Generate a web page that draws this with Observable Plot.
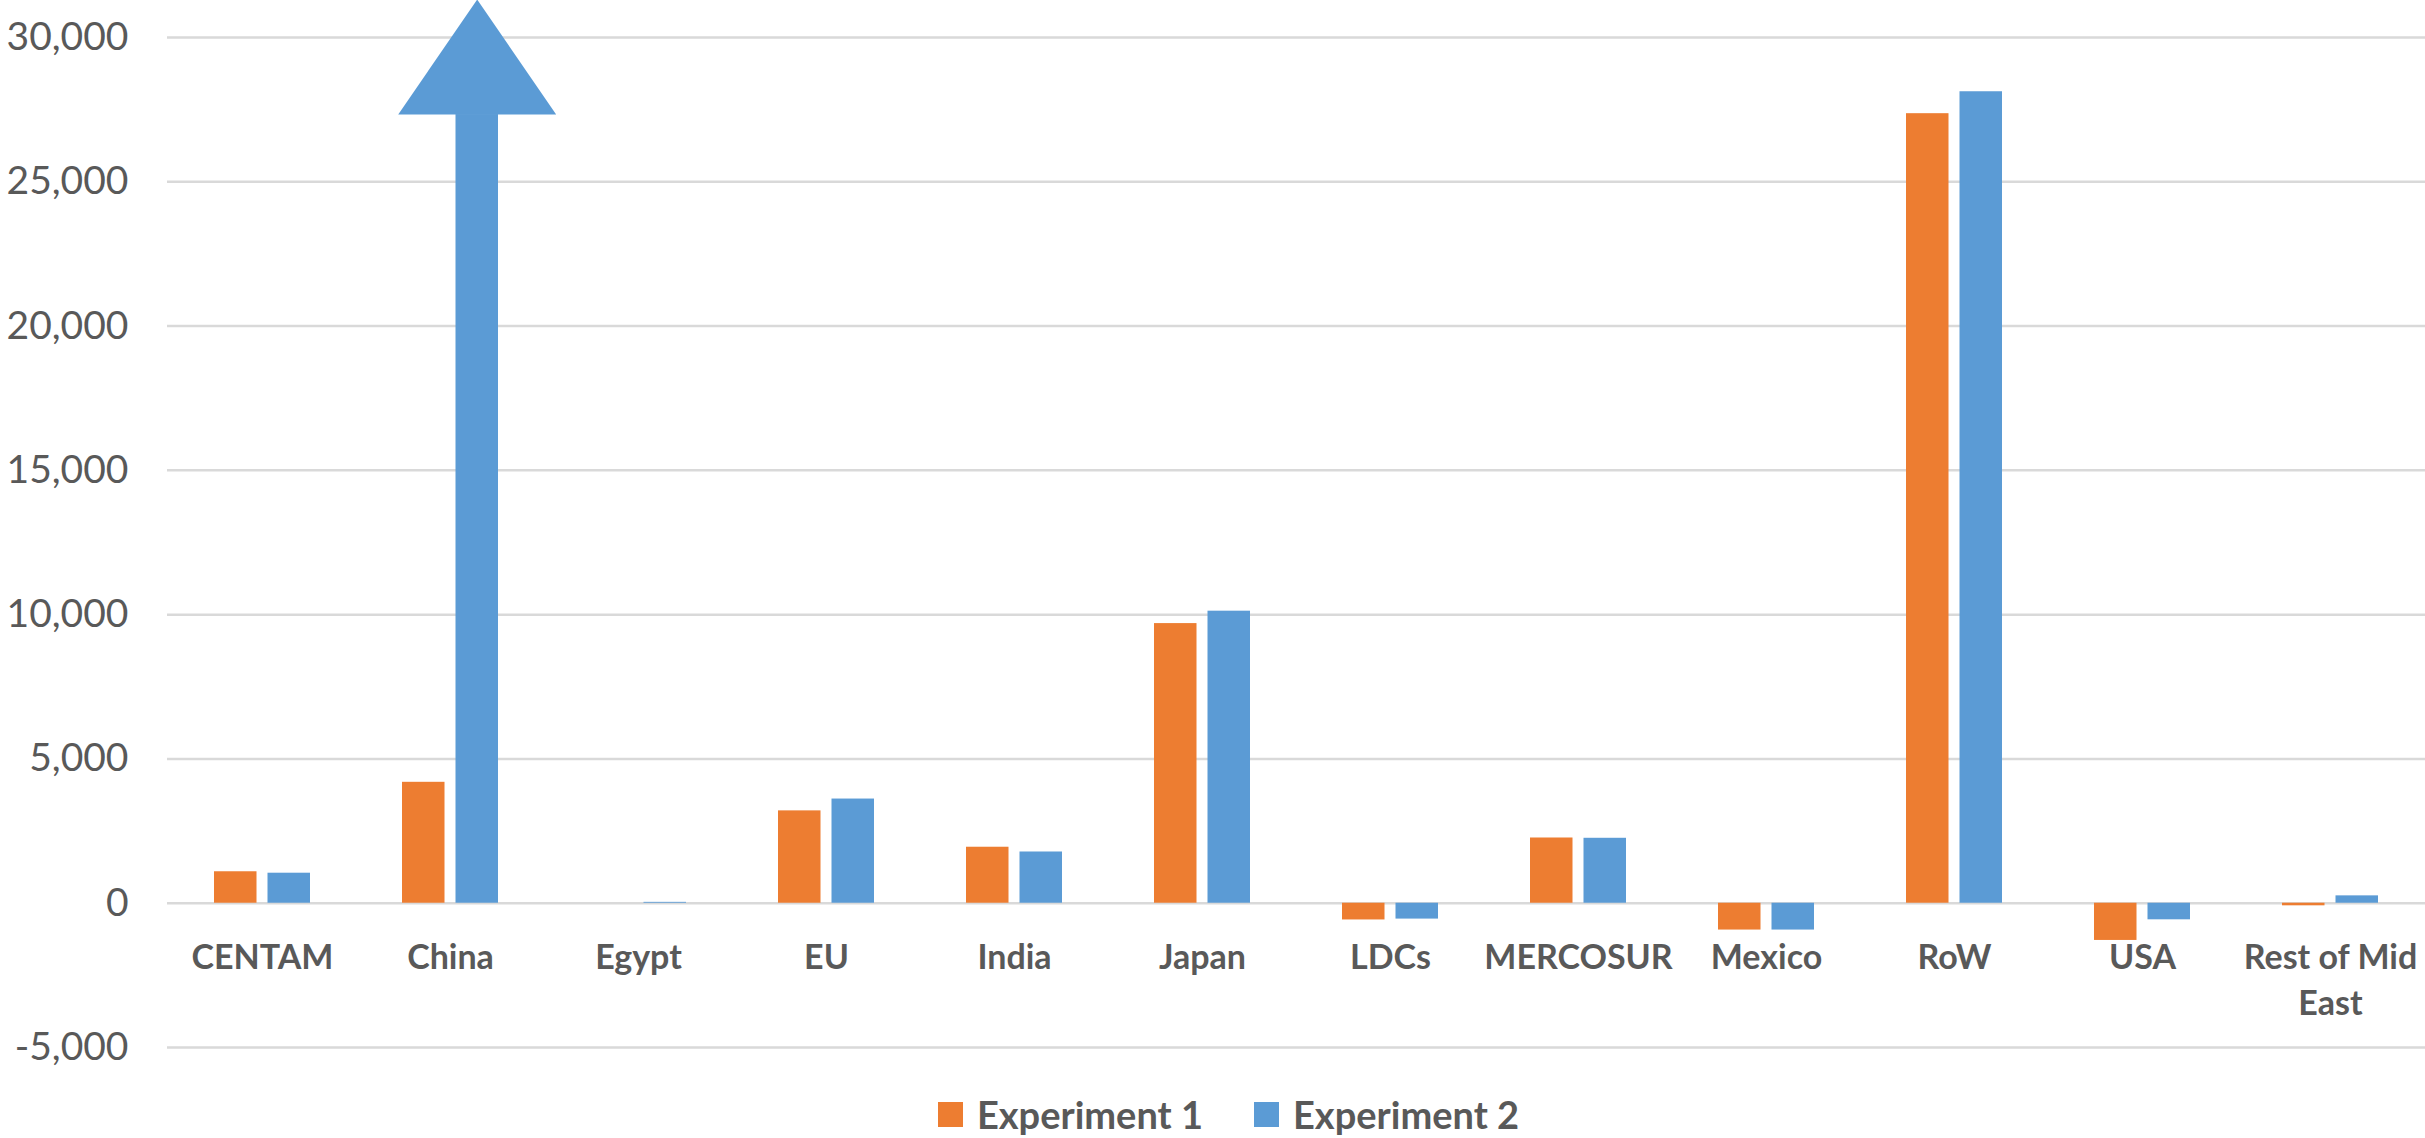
<!DOCTYPE html>
<html>
<head>
<meta charset="utf-8">
<script src="https://cdn.jsdelivr.net/npm/d3@7"></script>
<script src="https://cdn.jsdelivr.net/npm/@observablehq/plot@0.6"></script>
<style>
  html, body { margin: 0; padding: 0; background: #ffffff; }
  #chart { width: 2425px; }
  #legend {
    display: flex; justify-content: center; align-items: center;
    width: 2425px; height: 48px; box-sizing: border-box; padding-left: 32px;
    font-family: Lato, "Open Sans", sans-serif; font-weight: bold; font-size: 38px; color: #595959;
  }
  .item { display: flex; align-items: center; }
  .item + .item { margin-left: 51px; }
  .swatch { width: 25px; height: 25px; margin-right: 14px; }
</style>
</head>
<body>
<div id="chart"></div>
<div id="legend"></div>
<script>
// ---- data ----
const categories = ["CENTAM", "China", "Egypt", "EU", "India", "Japan", "LDCs", "MERCOSUR", "Mexico", "RoW", "USA", "Rest of Mid East"];
const categoryLabels = ["CENTAM", "China", "Egypt", "EU", "India", "Japan", "LDCs", "MERCOSUR", "Mexico", "RoW", "USA", "Rest of Mid\nEast"];
const experiment1 = [1090, 4190, 0, 3200, 1940, 9690, -580, 2260, -930, 27360, -1290, -90];
// China / Experiment 2 runs off the chart: its drawn height ends in an arrow head
const experiment2 = [1040, 27330, 30, 3610, 1775, 10120, -550, 2250, -930, 28120, -575, 255];
const arrowCategories = ["China"];
const seriesNames = ["Experiment 1", "Experiment 2"];
const seriesColors = ["#ED7D31", "#5B9BD5"];
const yTicks = [-5000, 0, 5000, 10000, 15000, 20000, 25000, 30000];

// ---- tables ----
const rows1 = categories.map((c, i) => ({cat: c, v: experiment1[i]}));
const rows2 = categories.map((c, i) => ({cat: c, v: experiment2[i]}));
const arrowRows = rows2.filter(d => arrowCategories.includes(d.cat));
const labelRows = categories.map((c, i) => ({cat: c, label: categoryLabels[i], y: 0}));

// arrow-head symbol: point = centre of the base
const arrowHead = {
  draw(ctx, size) {
    const r = Math.sqrt(size / Math.PI);
    const h = r * 115 / 79;
    ctx.moveTo(-r, 0);
    ctx.lineTo(r, 0);
    ctx.lineTo(0, -h);
    ctx.closePath();
  }
};

const fmt = d3.formatLocale({decimal: ".", thousands: ",", grouping: [3], currency: ["$", ""], minus: "-"}).format(",");

const barInset = 53.5;   // pushes each series bar to its side of the group
const blueOffset = 26.7; // centre of the second-series bar relative to the group centre

const chart = Plot.plot({
  width: 2425,
  height: 1090,
  marginLeft: 167,
  marginRight: 0,
  marginTop: 37,
  marginBottom: 43,
  style: {fontFamily: "Lato, 'Open Sans', sans-serif", fontSize: "39px", color: "#595959", background: "#ffffff"},
  x: {type: "band", domain: categories, paddingInner: 0.49, paddingOuter: 0.245, axis: null},
  y: {domain: [-5000, 30000]},
  marks: [
    Plot.ruleY(yTicks, {stroke: "#D9D9D9", strokeWidth: 2.5}),
    Plot.axisY({ticks: yTicks, tickFormat: fmt, tickSize: 0, tickPadding: 39, fill: "#595959", label: null}),
    Plot.barY(rows1, {x: "cat", y: "v", fill: seriesColors[0], insetRight: barInset}),
    Plot.barY(rows2, {x: "cat", y: "v", fill: seriesColors[1], insetLeft: barInset}),
    Plot.dot(arrowRows, {x: "cat", y: "v", symbol: arrowHead, r: 79, fill: seriesColors[1], dx: blueOffset}),
    Plot.text(labelRows, {x: "cat", y: "y", text: "label", lineAnchor: "top", dy: 33, lineHeight: 1.35,
      fontSize: 34, fontWeight: "bold", fill: "#595959"})
  ]
});
document.getElementById("chart").appendChild(chart);

const legend = document.getElementById("legend");
seriesNames.forEach((name, i) => {
  const item = document.createElement("div");
  item.className = "item";
  const sw = document.createElement("div");
  sw.className = "swatch";
  sw.style.background = seriesColors[i];
  const label = document.createElement("span");
  label.textContent = name;
  item.appendChild(sw);
  item.appendChild(label);
  legend.appendChild(item);
});
</script>
</body>
</html>
